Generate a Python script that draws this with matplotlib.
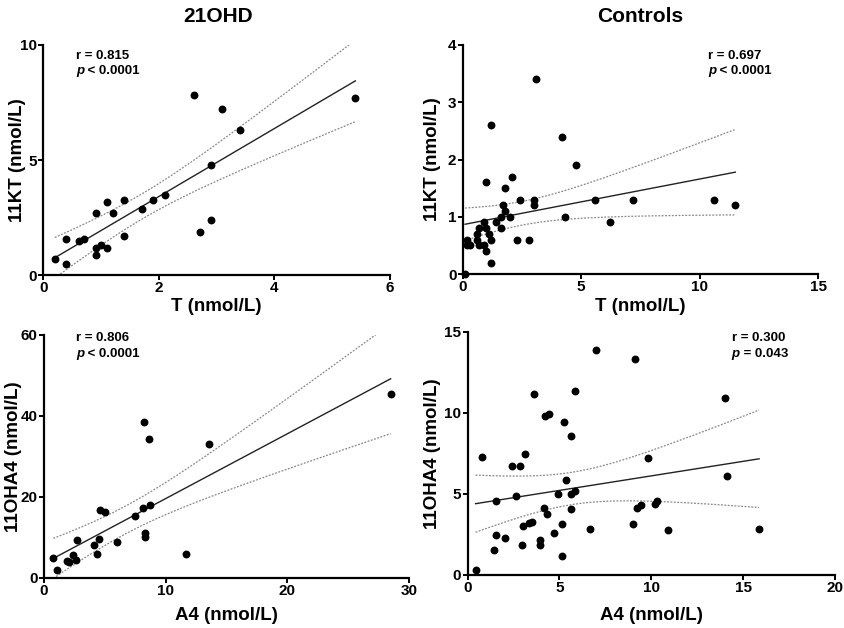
import math
import numpy as np
import matplotlib
matplotlib.use("Agg")
from matplotlib import pyplot as plt

plt.rcParams['font.family'] = ['Liberation Sans', 'DejaVu Sans']
plt.rcParams['font.weight'] = 'bold'

# 21OHD: T vs 11KT
t_21 = [0.20, 0.40, 0.40, 0.61, 0.70, 0.91, 0.91, 0.91, 1.00, 1.10, 1.10, 1.21,
        1.40, 1.40, 1.70, 1.90, 2.11, 2.60, 2.71, 2.90, 2.90, 3.10, 3.40, 5.40]
kt_21 = [0.68, 0.48, 1.58, 1.49, 1.58, 2.68, 1.17, 0.87, 1.29, 1.17, 3.19, 2.68,
         3.28, 1.68, 2.88, 3.28, 3.48, 7.81, 1.88, 2.39, 4.78, 7.20, 6.29, 7.70]

# Controls: T vs 11KT
t_ctl = [0.1, 0.2, 0.3, 0.2, 0.6, 0.6, 0.7, 0.7, 0.9, 0.9, 1.0, 1.1, 1.2, 1.0,
         1.2, 1.0, 1.2, 1.4, 1.6, 1.6, 1.7, 1.8, 1.8, 2.0, 2.1, 2.3, 2.4, 2.8,
         3.0, 3.0, 3.1, 4.2, 4.3, 4.8, 5.6, 6.2, 7.2, 10.6, 11.5]
kt_ctl = [0.0, 0.6, 0.5, 0.5, 0.7, 0.6, 0.5, 0.8, 0.9, 0.5, 0.8, 0.7, 0.6, 0.4,
          0.2, 1.6, 2.6, 0.9, 1.0, 0.8, 1.2, 1.1, 1.5, 1.0, 1.7, 0.6, 1.3, 0.6,
          1.3, 1.2, 3.4, 2.4, 1.0, 1.9, 1.3, 0.9, 1.3, 1.3, 1.2]

# 21OHD: A4 vs 11OHA4
a4_21 = [0.76, 1.03, 1.86, 2.07, 2.40, 2.62, 2.73, 4.10, 4.32, 4.54, 4.60, 5.04,
         6.02, 7.50, 8.11, 8.19, 8.30, 8.30, 8.60, 8.71, 11.67, 13.59, 28.5]
oha_21 = [4.9, 1.8, 4.1, 3.8, 5.5, 4.3, 9.2, 8.0, 5.9, 9.6, 16.6, 16.1,
          8.9, 15.1, 17.2, 38.4, 11.0, 10.0, 34.2, 17.9, 5.8, 33.0, 45.5]

# Controls: A4 vs 11OHA4
a4_ctl = [0.44, 0.77, 1.45, 1.56, 1.56, 2.05, 2.43, 2.65, 2.85, 2.94, 3.03, 3.15,
          3.33, 3.53, 3.64, 3.93, 3.93, 4.15, 4.24, 4.35, 4.43, 4.73, 4.92, 5.14,
          5.14, 5.23, 5.34, 5.63, 5.65, 5.65, 5.83, 5.84, 6.64, 7.02, 9.01, 9.12,
          9.20, 9.44, 9.82, 10.22, 10.33, 10.90, 14.0, 14.1, 15.87]
oha_ctl = [0.33, 7.28, 1.54, 4.57, 2.45, 2.26, 6.69, 4.88, 6.69, 1.85, 3.04, 7.49,
           3.19, 3.25, 11.13, 2.16, 1.85, 4.15, 9.80, 3.77, 9.90, 2.57, 4.98, 3.17,
           1.15, 9.42, 5.88, 8.60, 4.07, 5.00, 5.17, 11.32, 2.86, 13.85, 3.17, 13.33,
           4.15, 4.34, 7.20, 4.36, 4.59, 2.76, 10.9, 6.09, 2.86]

stats = [("r = 0.815", "< 0.0001"), ("r = 0.697", "< 0.0001"),
         ("r = 0.806", "< 0.0001"), ("r = 0.300", "= 0.043")]


def t_crit(df, q=0.975):
    xs = np.linspace(0, 6, 60001)
    c = math.exp(math.lgamma((df + 1) / 2) - math.lgamma(df / 2)) / math.sqrt(df * math.pi)
    pdf = c * (1 + xs ** 2 / df) ** (-(df + 1) / 2)
    cdf = 0.5 + np.concatenate([[0], np.cumsum((pdf[1:] + pdf[:-1]) / 2 * np.diff(xs))])
    return float(np.interp(q, cdf, xs))


def reg_plot(ax, x, y):
    x = np.asarray(x, float)
    y = np.asarray(y, float)
    n = len(x)
    b, a = np.polyfit(x, y, 1)
    res = y - (a + b * x)
    s = math.sqrt(np.sum(res ** 2) / (n - 2))
    sxx = np.sum((x - x.mean()) ** 2)
    xx = np.linspace(x.min(), x.max(), 200)
    yy = a + b * xx
    half = t_crit(n - 2) * s * np.sqrt(1 / n + (xx - x.mean()) ** 2 / sxx)
    ax.plot(xx, yy, color='#222222', lw=1.0)
    ax.plot(xx, yy + half, color='#888888', lw=0.9, ls=(0, (1.5, 1.2)))
    ax.plot(xx, yy - half, color='#888888', lw=0.9, ls=(0, (1.5, 1.2)))
    ax.scatter(x, y, s=32, color='black', zorder=3, clip_on=False, linewidths=0)


fig = plt.figure(figsize=(8.44, 6.28), dpi=100)
W, H = 844.0, 628.0


def px_axes(l, r, t, b):
    return fig.add_axes([l / W, 1 - b / H, (r - l) / W, (b - t) / H])


ax1 = px_axes(43.3, 390, 45, 275)
ax2 = px_axes(462.7, 818.3, 45, 274)
ax3 = px_axes(44.1, 408.9, 335, 577.5)
ax4 = px_axes(467.5, 835, 331.7, 575)

reg_plot(ax1, t_21, kt_21)
reg_plot(ax2, t_ctl, kt_ctl)
reg_plot(ax3, a4_21, oha_21)
reg_plot(ax4, a4_ctl, oha_ctl)

setup = [
    (ax1, (0, 6), [0, 2, 4, 6], (0, 10), [0, 5, 10], "T (nmol/L)", "11KT (nmol/L)", -0.050, -0.10),
    (ax2, (0, 15), [0, 5, 10, 15], (0, 4), [0, 1, 2, 3, 4], "T (nmol/L)", "11KT (nmol/L)", -0.061, -0.105),
    (ax3, (0, 30), [0, 10, 20, 30], (0, 60), [0, 20, 40, 60], "A4 (nmol/L)", "11OHA4 (nmol/L)", -0.060, -0.122),
    (ax4, (0, 20), [0, 5, 10, 15, 20], (0, 15), [0, 5, 10, 15], "A4 (nmol/L)", "11OHA4 (nmol/L)", -0.072, -0.132),
]
for ax, xl, xt, yl, yt, xlab, ylab, ylx, xly in setup:
    ax.set_xlim(*xl)
    ax.set_ylim(*yl)
    ax.set_xticks(xt)
    ax.set_yticks(yt)
    for sp in ['top', 'right']:
        ax.spines[sp].set_visible(False)
    for sp in ['left', 'bottom']:
        ax.spines[sp].set_linewidth(1.6)
    ax.tick_params(direction='out', length=3.5, width=1.4, labelsize=11, pad=1)
    for lab in ax.get_xticklabels() + ax.get_yticklabels():
        lab.set_fontweight('bold')
    ax.set_xlabel(xlab, fontsize=13.5, fontweight='bold')
    ax.set_ylabel(ylab, fontsize=13.5, fontweight='bold')
    ax.xaxis.set_label_coords(0.5, xly)
    ax.yaxis.set_label_coords(ylx, 0.5)
    ax.patch.set_alpha(0)

fig.text(218 / W, 1 - 16 / H, "21OHD", ha='center', va='center', fontsize=15, fontweight='bold')
fig.text(640 / W, 1 - 16 / H, "Controls", ha='center', va='center', fontsize=15, fontweight='bold')

txt_pos = [(76, 55.7, 71), (708.3, 55.7, 71), (76, 338.3, 354.3), (731.7, 338.3, 354.3)]
for (rtxt, ptxt), (x0, y1, y2) in zip(stats, txt_pos):
    fig.text(x0 / W, 1 - y1 / H, rtxt, ha='left', va='center', fontsize=9.5, fontweight='bold')
    fig.text(x0 / W, 1 - y2 / H, "p", ha='left', va='center', fontsize=9.5,
             fontweight='bold', fontstyle='italic')
    fig.text((x0 + 8) / W, 1 - y2 / H, " " + ptxt, ha='left', va='center',
             fontsize=9.5, fontweight='bold')

fig.savefig("out.png", dpi=100)
